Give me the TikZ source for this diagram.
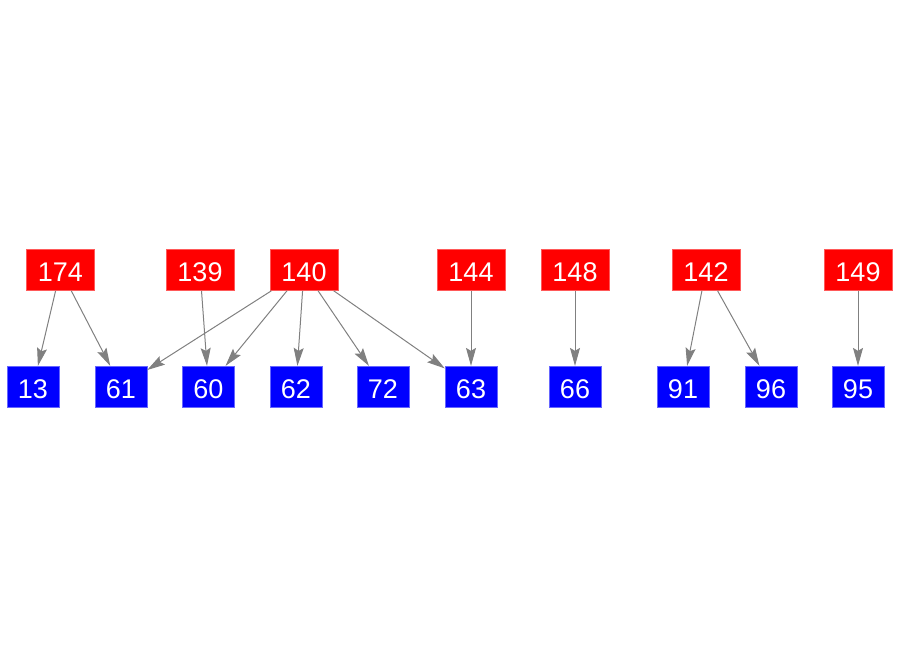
\documentclass[tikz,border=0pt]{standalone}
\usepackage{fontspec}
\setmainfont{Liberation Sans}
\usetikzlibrary{arrows.meta}
\begin{document}
\begin{tikzpicture}[x=1pt,y=-1pt,
  boxbase/.style={inner sep=0pt, minimum height=41pt, line width=0.6pt, text=white,
    font=\fontsize{27}{30}\selectfont, text height=23pt, text depth=0pt},
  redbox/.style={boxbase, fill=red, draw=red!65!white, minimum width=68pt},
  bluebox/.style={boxbase, fill=blue, draw=blue!60!white, minimum width=51.7pt},
  link/.style={draw=gray, line width=1pt, -{Stealth[length=18pt,width=10pt,inset=3pt]}}]
\useasboundingbox (0,0) rectangle (900,656);
% parents
\node[redbox] (n174) at (60.5,270) {174};
\node[redbox] (n139) at (200,270) {139};
\node[redbox] (n140) at (304,270) {140};
\node[redbox] (n144) at (471,270) {144};
\node[redbox] (n148) at (575,270) {148};
\node[redbox] (n142) at (706,270) {142};
\node[redbox] (n149) at (858,270) {149};
% children
\node[bluebox] (n13) at (33,386.7) {13};
\node[bluebox] (n61) at (121,386.7) {61};
\node[bluebox] (n60) at (208.5,386.7) {60};
\node[bluebox] (n62) at (296,386.7) {62};
\node[bluebox] (n72) at (383,386.7) {72};
\node[bluebox] (n63) at (471,386.7) {63};
\node[bluebox] (n66) at (575,386.7) {66};
\node[bluebox] (n91) at (683,386.7) {91};
\node[bluebox] (n96) at (771,386.7) {96};
\node[bluebox] (n95) at (858,386.7) {95};
% edges
\draw[link] (n174) -- (n13);
\draw[link] (n174) -- (n61);
\draw[link] (n139) -- (n60);
\draw[link] (n140) -- (n61);
\draw[link] (n140) -- (n60);
\draw[link] (n140) -- (n62);
\draw[link] (n140) -- (n72);
\draw[link] (n140) -- (n63);
\draw[link] (n144) -- (n63);
\draw[link] (n148) -- (n66);
\draw[link] (n142) -- (n91);
\draw[link] (n142) -- (n96);
\draw[link] (n149) -- (n95);
\end{tikzpicture}
\end{document}
